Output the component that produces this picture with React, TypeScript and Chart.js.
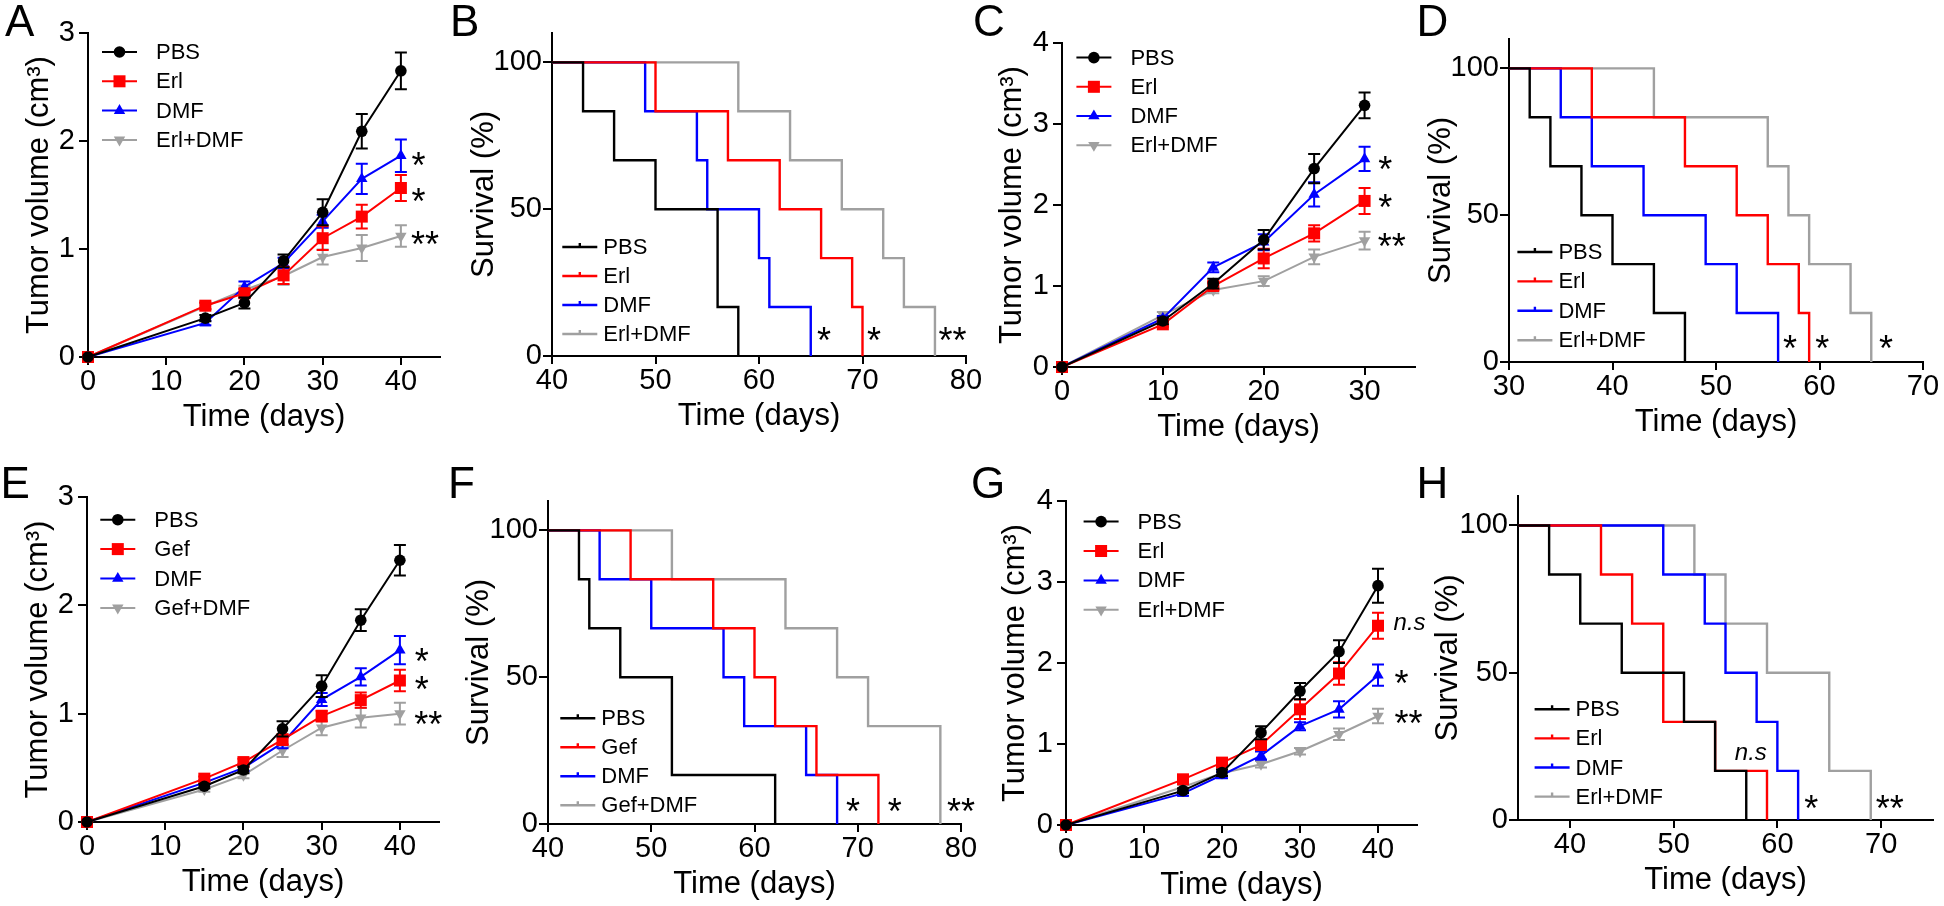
import React, { useEffect, useRef } from 'react';
import { Chart, registerables } from 'chart.js';

Chart.register(...registerables);

const FONT = '"Liberation Sans", Arial, Helvetica, sans-serif';

// ---------- labels ----------
const erlLabels = ['PBS', 'Erl', 'DMF', 'Erl+DMF'];
const gefLabels = ['PBS', 'Gef', 'DMF', 'Gef+DMF'];
const tumorTitle = 'Tumor volume (cm³)';
const survTitle = 'Survival (%)';
const timeTitle = 'Time (days)';

// ---------- Panel A (tumor volume) ----------
const aDays = [0, 15, 20, 25, 30, 35, 40];
const aPbs = [0, 0.36, 0.5, 0.89, 1.34, 2.09, 2.65];
const aPbsErr = [0.02, 0.03, 0.05, 0.06, 0.12, 0.16, 0.17];
const aErl = [0, 0.475, 0.59, 0.756, 1.1, 1.3, 1.565];
const aErlErr = [0.02, 0.03, 0.04, 0.08, 0.11, 0.11, 0.12];
const aDmf = [0, 0.315, 0.65, 0.87, 1.256, 1.65, 1.864];
const aDmfErr = [0.02, 0.02, 0.05, 0.05, 0.06, 0.14, 0.15];
const aCombo = [0, 0.47, 0.62, 0.75, 0.926, 1.01, 1.12];
const aComboErr = [0.02, 0.03, 0.04, 0.08, 0.07, 0.12, 0.1];
const aXTicks = [0, 10, 20, 30, 40];
const aYTicks = [0, 1, 2, 3];
const aNotes = ['*', '*', '**'];
const aNoteX = [41.35, 41.35, 41.3];
const aNoteY = [1.85, 1.52, 1.12];

// ---------- Panel B (survival) ----------
const bPbsT = [40, 43, 46, 50, 56, 58];
const bPbsS = [100, 83.33, 66.67, 50, 16.67, 0];
const bErlT = [40, 50, 57, 62, 66, 69, 70];
const bErlS = [100, 83.33, 66.67, 50, 33.33, 16.67, 0];
const bDmfT = [40, 49, 54, 55, 60, 61, 65];
const bDmfS = [100, 83.33, 66.67, 50, 33.33, 16.67, 0];
const bComboT = [40, 58, 63, 68, 72, 74, 77];
const bComboS = [100, 83.33, 66.67, 50, 33.33, 16.67, 0];
const bXTicks = [40, 50, 60, 70, 80];
const survYTicks = [0, 50, 100];
const bNotes = ['*', '*', '**'];
const bNoteX = [65.6, 70.43, 77.35];
const bNoteY = [8.2, 8.2, 8.2];

// ---------- Panel C (tumor volume) ----------
const cDays = [0, 10, 15, 20, 25, 30];
const cPbs = [0, 0.568, 1.03, 1.57, 2.45, 3.23];
const cPbsErr = [0.02, 0.04, 0.06, 0.12, 0.18, 0.16];
const cErl = [0, 0.527, 1.0, 1.34, 1.65, 2.05];
const cErlErr = [0.02, 0.03, 0.05, 0.12, 0.1, 0.16];
const cDmf = [0, 0.6, 1.23, 1.54, 2.13, 2.57];
const cDmfErr = [0.02, 0.03, 0.06, 0.1, 0.15, 0.15];
const cCombo = [0, 0.64, 0.95, 1.06, 1.36, 1.56];
const cComboErr = [0.02, 0.04, 0.04, 0.06, 0.09, 0.11];
const cXTicks = [0, 10, 20, 30];
const cYTicks = [0, 1, 2, 3, 4];
const cNotes = ['*', '*', '**'];
const cNoteX = [31.35, 31.35, 31.3];
const cNoteY = [2.54, 2.07, 1.585];

// ---------- Panel D (survival) ----------
const dPbsT = [30, 32, 34, 37, 40, 44, 47];
const dPbsS = [100, 83.33, 66.67, 50, 33.33, 16.67, 0];
const dErlT = [30, 38, 47, 52, 55, 58, 59];
const dErlS = [100, 83.33, 66.67, 50, 33.33, 16.67, 0];
const dDmfT = [30, 35, 38, 43, 49, 52, 56];
const dDmfS = [100, 83.33, 66.67, 50, 33.33, 16.67, 0];
const dComboT = [30, 44, 55, 57, 59, 63, 65];
const dComboS = [100, 83.33, 66.67, 50, 33.33, 16.67, 0];
const dXTicks = [30, 40, 50, 60, 70];
const dNotes = ['*', '*', '*'];
const dNoteX = [56.47, 59.6, 65.75];
const dNoteY = [7.4, 7.4, 7.4];

// ---------- Panel E (tumor volume) ----------
const eDays = [0, 15, 20, 25, 30, 35, 40];
const ePbs = [0, 0.33, 0.48, 0.86, 1.254, 1.863, 2.416];
const ePbsErr = [0.02, 0.02, 0.03, 0.07, 0.1, 0.1, 0.14];
const eGef = [0, 0.4, 0.553, 0.76, 0.978, 1.125, 1.306];
const eGefErr = [0.02, 0.02, 0.03, 0.05, 0.05, 0.07, 0.1];
const eDmf = [0, 0.363, 0.5, 0.73, 1.13, 1.34, 1.586];
const eDmfErr = [0.02, 0.02, 0.03, 0.05, 0.06, 0.08, 0.13];
const eCombo = [0, 0.3, 0.433, 0.66, 0.87, 0.962, 1.0];
const eComboErr = [0.02, 0.02, 0.03, 0.06, 0.07, 0.09, 0.1];
const eXTicks = [0, 10, 20, 30, 40];
const eYTicks = [0, 1, 2, 3];
const eNotes = ['*', '*', '**'];
const eNoteX = [41.9, 41.9, 41.85];
const eNoteY = [1.56, 1.3, 0.98];

// ---------- Panel F (survival) ----------
const fPbsT = [40, 43, 44, 47, 52, 62];
const fPbsS = [100, 83.33, 66.67, 50, 16.67, 0];
const fGefT = [40, 48, 56, 60, 62, 66, 72];
const fGefS = [100, 83.33, 66.67, 50, 33.33, 16.67, 0];
const fDmfT = [40, 45, 50, 57, 59, 65, 68];
const fDmfS = [100, 83.33, 66.67, 50, 33.33, 16.67, 0];
const fComboT = [40, 52, 63, 68, 71, 78];
const fComboS = [100, 83.33, 66.67, 50, 33.33, 0];
const fXTicks = [40, 50, 60, 70, 80];
const fNotes = ['*', '*', '**'];
const fNoteX = [68.86, 72.9, 78.64];
const fNoteY = [7, 7, 7];

// ---------- Panel G (tumor volume) ----------
const gDays = [0, 15, 20, 25, 30, 35, 40];
const gPbs = [0, 0.424, 0.646, 1.14, 1.654, 2.14, 2.955];
const gPbsErr = [0.02, 0.03, 0.04, 0.08, 0.1, 0.14, 0.21];
const gErl = [0, 0.564, 0.77, 0.988, 1.428, 1.87, 2.46];
const gErlErr = [0.02, 0.03, 0.04, 0.06, 0.12, 0.14, 0.16];
const gDmf = [0, 0.39, 0.617, 0.856, 1.22, 1.428, 1.85];
const gDmfErr = [0.02, 0.03, 0.04, 0.05, 0.05, 0.1, 0.13];
const gCombo = [0, 0.47, 0.64, 0.75, 0.91, 1.12, 1.346];
const gComboErr = [0.02, 0.03, 0.03, 0.04, 0.04, 0.07, 0.09];
const gXTicks = [0, 10, 20, 30, 40];
const gYTicks = [0, 1, 2, 3, 4];
const gNotes = ['n.s', '*', '**'];
const gNoteX = [42.0, 42.1, 42.1];
const gNoteY = [2.49, 1.85, 1.36];

// ---------- Panel H (survival) ----------
const hPbsT = [35, 38, 41, 45, 51, 54, 57];
const hPbsS = [100, 83.33, 66.67, 50, 33.33, 16.67, 0];
const hErlT = [35, 43, 46, 49, 54, 59];
const hErlS = [100, 83.33, 66.67, 33.33, 16.67, 0];
const hDmfT = [35, 49, 53, 55, 58, 60, 62];
const hDmfS = [100, 83.33, 66.67, 50, 33.33, 16.67, 0];
const hComboT = [35, 52, 55, 59, 65, 69];
const hComboS = [100, 83.33, 66.67, 50, 16.67, 0];
const hXTicks = [40, 50, 60, 70];
const hNotes = ['n.s', '*', '**'];
const hNoteX = [55.9, 62.59, 69.49];
const hNoteY = [22.7, 6.8, 6.8];

// ---------- styling ----------
const COLORS = ['#000000', '#ff0000', '#0000ff', '#a0a0a0'];
const STYLES = ['circle', 'rect', 'triangle', 'triangle'];
const ROT = [0, 0, 0, 180];
const RADII = [5.8, 8.5, 6.6, 6.6];
const PAD_TOP = 22;
const PAD_RIGHT = 26;
const XH = 79;
const CAP = 6;
const TICK_SIZE = 29;
const TITLE_SIZE = 31;

type Series = { label: string; values?: number[]; errs?: number[]; times?: number[]; surv?: number[] };
type Spec = {
  id: string;
  kind: 'tumor' | 'surv';
  days?: number[];
  series: Series[];
  xMin: number;
  xMax: number;
  xTicks: number[];
  yMax: number;
  yTicks: number[];
  yTitle: string;
  notes: string[];
  noteX: number[];
  noteY: number[];
  geom: { cl: number; ct: number; cr: number; cb: number; yW: number };
  leg: { dx: number; dy: number; sp: number };
  letter: { x: number; base: number };
};

const tumorSeries = (labels: string[], vals: number[][], errs: number[][]): Series[] =>
  labels.map((label, i) => ({ label, values: vals[i], errs: errs[i] }));
const survSeries = (labels: string[], times: number[][], surv: number[][]): Series[] =>
  labels.map((label, i) => ({ label, times: times[i], surv: surv[i] }));

const SPECS: Spec[] = [
  {
    id: 'A', kind: 'tumor', days: aDays,
    series: tumorSeries(erlLabels, [aPbs, aErl, aDmf, aCombo], [aPbsErr, aErlErr, aDmfErr, aComboErr]),
    xMin: 0, xMax: 45, xTicks: aXTicks, yMax: 3, yTicks: aYTicks, yTitle: tumorTitle,
    notes: aNotes, noteX: aNoteX, noteY: aNoteY,
    geom: { cl: 88, ct: 33, cr: 440, cb: 357, yW: 67 },
    leg: { dx: 14, dy: 19, sp: 29.3 }, letter: { x: 5, base: 36 },
  },
  {
    id: 'B', kind: 'surv',
    series: survSeries(erlLabels, [bPbsT, bErlT, bDmfT, bComboT], [bPbsS, bErlS, bDmfS, bComboS]),
    xMin: 40, xMax: 80, xTicks: bXTicks, yMax: 110, yTicks: survYTicks, yTitle: survTitle,
    notes: bNotes, noteX: bNoteX, noteY: bNoteY,
    geom: { cl: 552, ct: 33, cr: 966, cb: 356, yW: 86 },
    leg: { dx: 10.3, dy: 109, sp: 29 }, letter: { x: 450, base: 36.5 },
  },
  {
    id: 'C', kind: 'tumor', days: cDays,
    series: tumorSeries(erlLabels, [cPbs, cErl, cDmf, cCombo], [cPbsErr, cErlErr, cDmfErr, cComboErr]),
    xMin: 0, xMax: 35, xTicks: cXTicks, yMax: 4, yTicks: cYTicks, yTitle: tumorTitle,
    notes: cNotes, noteX: cNoteX, noteY: cNoteY,
    geom: { cl: 1062, ct: 43, cr: 1415, cb: 367, yW: 68 },
    leg: { dx: 14.4, dy: 14.6, sp: 29.2 }, letter: { x: 973, base: 36.5 },
  },
  {
    id: 'D', kind: 'surv',
    series: survSeries(erlLabels, [dPbsT, dErlT, dDmfT, dComboT], [dPbsS, dErlS, dDmfS, dComboS]),
    xMin: 30, xMax: 70, xTicks: dXTicks, yMax: 110, yTicks: survYTicks, yTitle: survTitle,
    notes: dNotes, noteX: dNoteX, noteY: dNoteY,
    geom: { cl: 1509, ct: 39, cr: 1923, cb: 362, yW: 86 },
    leg: { dx: 8.4, dy: 110, sp: 29.4 }, letter: { x: 1416.5, base: 36.5 },
  },
  {
    id: 'E', kind: 'tumor', days: eDays,
    series: tumorSeries(gefLabels, [ePbs, eGef, eDmf, eCombo], [ePbsErr, eGefErr, eDmfErr, eComboErr]),
    xMin: 0, xMax: 45, xTicks: eXTicks, yMax: 3, yTicks: eYTicks, yTitle: tumorTitle,
    notes: eNotes, noteX: eNoteX, noteY: eNoteY,
    geom: { cl: 87, ct: 497, cr: 439, cb: 822, yW: 67 },
    leg: { dx: 13.3, dy: 22.7, sp: 29.4 }, letter: { x: 0.5, base: 498 },
  },
  {
    id: 'F', kind: 'surv',
    series: survSeries(gefLabels, [fPbsT, fGefT, fDmfT, fComboT], [fPbsS, fGefS, fDmfS, fComboS]),
    xMin: 40, xMax: 80, xTicks: fXTicks, yMax: 110, yTicks: survYTicks, yTitle: survTitle,
    notes: fNotes, noteX: fNoteX, noteY: fNoteY,
    geom: { cl: 548, ct: 501, cr: 961, cb: 824, yW: 87 },
    leg: { dx: 12.3, dy: 105.7, sp: 29 }, letter: { x: 448, base: 498 },
  },
  {
    id: 'G', kind: 'tumor', days: gDays,
    series: tumorSeries(erlLabels, [gPbs, gErl, gDmf, gCombo], [gPbsErr, gErlErr, gDmfErr, gComboErr]),
    xMin: 0, xMax: 45, xTicks: gXTicks, yMax: 4, yTicks: gYTicks, yTitle: tumorTitle,
    notes: gNotes, noteX: gNoteX, noteY: gNoteY,
    geom: { cl: 1066, ct: 501, cr: 1417, cb: 825, yW: 69 },
    leg: { dx: 17.6, dy: 20.6, sp: 29.4 }, letter: { x: 971, base: 498.5 },
  },
  {
    id: 'H', kind: 'surv',
    series: survSeries(erlLabels, [hPbsT, hErlT, hDmfT, hComboT], [hPbsS, hErlS, hDmfS, hComboS]),
    xMin: 35, xMax: 75, xTicks: hXTicks, yMax: 110, yTicks: survYTicks, yTitle: survTitle,
    notes: hNotes, noteX: hNoteX, noteY: hNoteY,
    geom: { cl: 1518, ct: 496, cr: 1933, cb: 820, yW: 88 },
    leg: { dx: 16.6, dy: 110.7, sp: 29.1 }, letter: { x: 1416.5, base: 498 },
  },
];

function drawMarker(ctx: CanvasRenderingContext2D, i: number, x: number, y: number) {
  const r = RADII[i];
  ctx.beginPath();
  if (STYLES[i] === 'circle') {
    ctx.arc(x, y, r, 0, Math.PI * 2);
  } else if (STYLES[i] === 'rect') {
    const s = r * Math.SQRT1_2;
    ctx.rect(x - s, y - s, 2 * s, 2 * s);
  } else {
    let rad = (ROT[i] * Math.PI) / 180;
    ctx.moveTo(x + Math.sin(rad) * r, y - Math.cos(rad) * r);
    rad += (2 * Math.PI) / 3;
    ctx.lineTo(x + Math.sin(rad) * r, y - Math.cos(rad) * r);
    rad += (2 * Math.PI) / 3;
    ctx.lineTo(x + Math.sin(rad) * r, y - Math.cos(rad) * r);
    ctx.closePath();
  }
  ctx.fill();
}

function makeExtras(spec: Spec) {
  return {
    id: 'extras' + spec.id,
    beforeDatasetDraw(chart: any, args: any) {
      if (spec.kind !== 'tumor') return;
      const i = args.index;
      const s = spec.series[i];
      const ctx: CanvasRenderingContext2D = chart.ctx;
      const xs = chart.scales.x;
      const ys = chart.scales.y;
      ctx.save();
      ctx.strokeStyle = COLORS[i];
      ctx.lineWidth = 2;
      ctx.beginPath();
      spec.days!.forEach((d, j) => {
        const e = s.errs![j];
        const v = s.values![j];
        if (!e || v === 0) return;
        const px = xs.getPixelForValue(d);
        const t = ys.getPixelForValue(v + e);
        const b = ys.getPixelForValue(Math.max(0, v - e));
        ctx.moveTo(px, t);
        ctx.lineTo(px, b);
        ctx.moveTo(px - CAP, t);
        ctx.lineTo(px + CAP, t);
        ctx.moveTo(px - CAP, b);
        ctx.lineTo(px + CAP, b);
      });
      ctx.stroke();
      ctx.restore();
    },
    afterDraw(chart: any) {
      const ctx: CanvasRenderingContext2D = chart.ctx;
      const ca = chart.chartArea;
      const xs = chart.scales.x;
      const ys = chart.scales.y;
      const surv = spec.kind === 'surv';
      ctx.save();
      // legend
      const lineLen = 35;
      const textOff = surv ? 41 : 54;
      ctx.font = `22px ${FONT}`;
      ctx.textBaseline = 'middle';
      ctx.textAlign = 'left';
      spec.series.forEach((s, i) => {
        const y = surv ? ca.bottom - spec.leg.dy + i * spec.leg.sp : ca.top + spec.leg.dy + i * spec.leg.sp;
        const x0 = ca.left + spec.leg.dx;
        ctx.strokeStyle = COLORS[i];
        ctx.fillStyle = COLORS[i];
        ctx.lineWidth = surv ? 2.4 : 2;
        ctx.beginPath();
        ctx.moveTo(x0, y);
        ctx.lineTo(x0 + lineLen, y);
        if (surv) {
          ctx.moveTo(x0 + lineLen / 2, y - 4);
          ctx.lineTo(x0 + lineLen / 2, y + 1);
        }
        ctx.stroke();
        if (!surv) drawMarker(ctx, i, x0 + lineLen / 2, y);
        ctx.fillStyle = '#000';
        ctx.fillText(s.label, x0 + textOff, y + 1);
      });
      // significance notes
      ctx.textBaseline = 'alphabetic';
      ctx.fillStyle = '#000';
      spec.notes.forEach((t, k) => {
        const px = xs.getPixelForValue(spec.noteX[k]);
        const py = ys.getPixelForValue(spec.noteY[k]);
        if (t === 'n.s') {
          ctx.font = `italic 24px ${FONT}`;
          ctx.fillText(t, px, py + 0.27 * 24);
        } else {
          ctx.font = `36px ${FONT}`;
          ctx.fillText(t, px, py + 0.58 * 36);
        }
      });
      ctx.restore();
    },
  };
}

function buildConfig(spec: Spec): any {
  const surv = spec.kind === 'surv';
  const datasets = spec.series.map((s, i) => ({
    label: s.label,
    data: surv
      ? s.times!.map((t, j) => ({ x: t, y: s.surv![j] }))
      : spec.days!.map((d, j) => ({ x: d, y: s.values![j] })),
    borderColor: COLORS[i],
    backgroundColor: COLORS[i],
    borderWidth: surv ? 2.4 : 2,
    pointStyle: STYLES[i],
    pointRotation: ROT[i],
    pointRadius: surv ? 0 : RADII[i],
    pointHoverRadius: surv ? 0 : RADII[i],
    pointBorderWidth: 0,
    stepped: surv ? 'before' : false,
    tension: 0,
    fill: false,
    clip: false,
  }));
  const tickFont = { family: FONT, size: TICK_SIZE };
  const titleFont = { family: FONT, size: TITLE_SIZE };
  const axis = (ticks: number[], tl: number, pad: number) => ({
    type: 'linear',
    afterBuildTicks: (sc: any) => {
      sc.ticks = ticks.map((v) => ({ value: v }));
    },
    ticks: {
      font: tickFont,
      color: '#000',
      padding: pad,
      autoSkip: false,
      maxRotation: 0,
      minRotation: 0,
      callback: (v: any) => String(v),
    },
    grid: {
      display: true,
      drawOnChartArea: false,
      drawTicks: true,
      tickLength: tl,
      tickWidth: 2,
      color: '#000',
      lineWidth: 2,
    },
    border: { display: true, color: '#000', width: 2 },
  });
  return {
    type: 'line',
    data: { datasets },
    options: {
      animation: false,
      responsive: false,
      devicePixelRatio: 1,
      events: [],
      layout: { padding: { top: PAD_TOP, right: PAD_RIGHT, bottom: 0, left: 0 } },
      plugins: { legend: { display: false }, tooltip: { enabled: false }, title: { display: false } },
      scales: {
        x: {
          ...axis(spec.xTicks, 8, 0),
          position: 'bottom',
          min: spec.xMin,
          max: spec.xMax,
          title: { display: true, text: timeTitle, font: titleFont, color: '#000', padding: 0 },
          afterFit: (sc: any) => {
            sc.height = XH;
            sc.paddingLeft = 0;
            sc.paddingRight = 0;
          },
        },
        y: {
          ...axis(spec.yTicks, 9, surv ? 1 : 4),
          position: 'left',
          min: 0,
          max: spec.yMax,
          title: { display: true, text: spec.yTitle, font: titleFont, color: '#000', padding: 0 },
          afterFit: (sc: any) => {
            sc.width = spec.geom.yW;
            sc.paddingTop = 0;
            sc.paddingBottom = 0;
          },
        },
      },
    },
    plugins: [makeExtras(spec)],
  };
}

function Panel({ spec }: { spec: Spec }) {
  const ref = useRef<HTMLCanvasElement>(null);
  const g = spec.geom;
  const left = g.cl - g.yW;
  const top = g.ct - PAD_TOP;
  const width = g.cr + PAD_RIGHT - left;
  const height = g.cb + XH - top;
  useEffect(() => {
    const chart = new Chart(ref.current as HTMLCanvasElement, buildConfig(spec));
    return () => chart.destroy();
  }, [spec]);
  return (
    <>
      <canvas
        ref={ref}
        width={width}
        height={height}
        style={{ position: 'absolute', left, top, width, height }}
      />
      <div
        style={{
          position: 'absolute',
          left: spec.letter.x,
          top: spec.letter.base - 37.2,
          fontFamily: FONT,
          fontSize: 44,
          lineHeight: '44px',
          color: '#000',
          whiteSpace: 'nowrap',
        }}
      >
        {spec.id}
      </div>
    </>
  );
}

export default function App() {
  return (
    <div
      style={{
        position: 'absolute',
        left: 0,
        top: 0,
        width: 1944,
        height: 906,
        overflow: 'hidden',
        background: '#ffffff',
      }}
    >
      {SPECS.map((s) => (
        <Panel key={s.id} spec={s} />
      ))}
    </div>
  );
}
